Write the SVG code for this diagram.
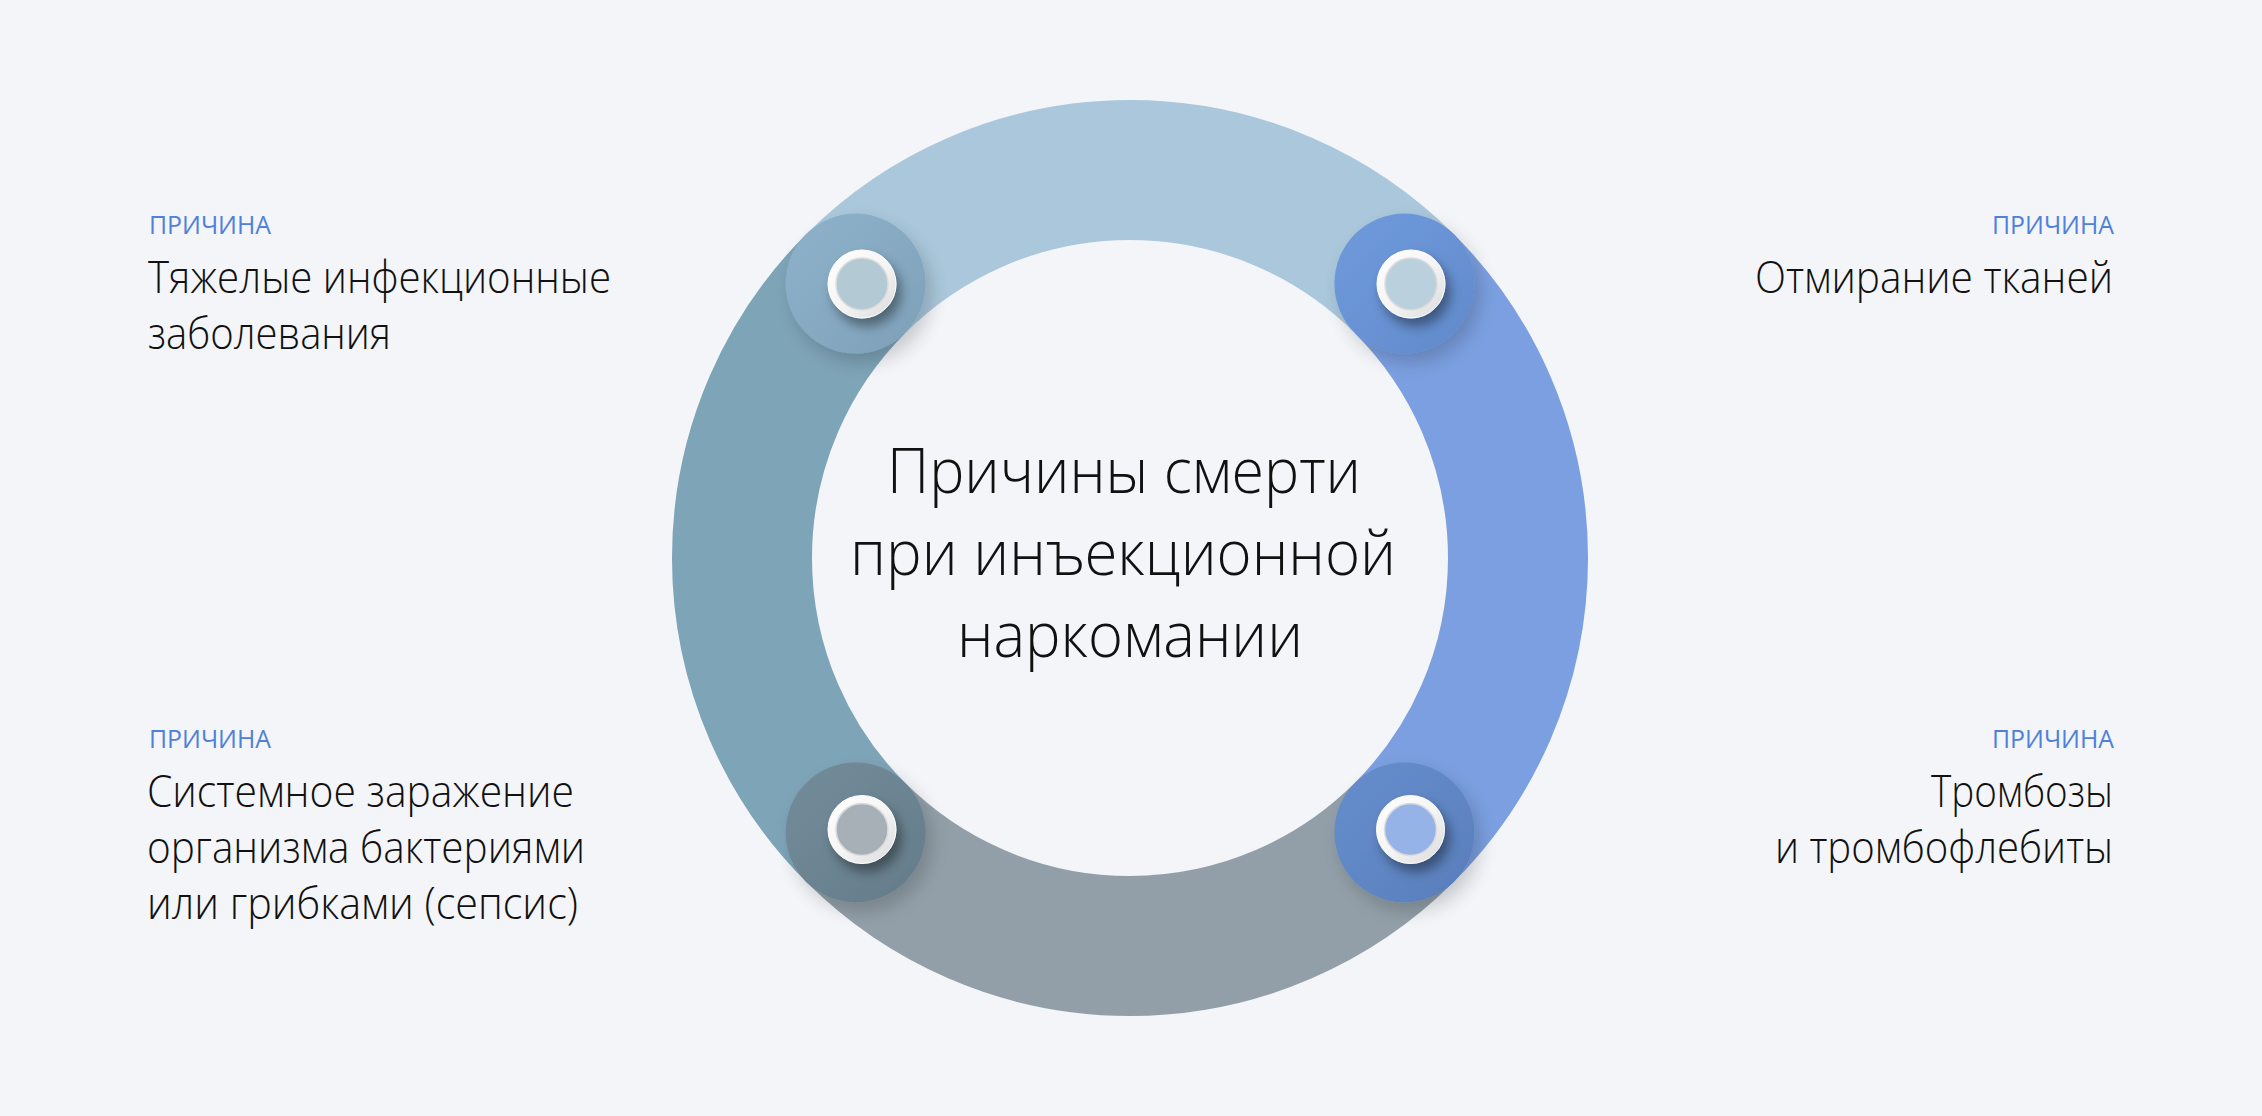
<svg xmlns="http://www.w3.org/2000/svg" width="2262" height="1116" viewBox="0 0 2262 1116">
  <defs>
    <style>
      .bg { fill: #F3F5F9; }
      .arc { fill: none; stroke-width: 140; stroke-linecap: butt; }
      .tag { font-family: "Open Sans", "Noto Sans", sans-serif; font-size: 26px; font-weight: 400; fill: #4F80DA; }
      .cause { font-family: "Open Sans", "Noto Sans", sans-serif; font-size: 45px; font-weight: 300; fill: #111111; }
      .title { font-family: "Open Sans", "Noto Sans", sans-serif; font-size: 62px; font-weight: 300; fill: #111111; text-anchor: middle; }
      .end { text-anchor: end; }
      .knob-rim { fill: url(#rimGrad); stroke: #FFFFFF; stroke-width: 1; }
      .knob-core { stroke: #DCDCDC; stroke-width: 1.5; }
    </style>
    <linearGradient id="rimGrad" x1="0" y1="0" x2="1" y2="1">
      <stop offset="0" stop-color="#FFFFFF"/>
      <stop offset="0.55" stop-color="#F4F4F4"/>
      <stop offset="1" stop-color="#D9D9D9"/>
    </linearGradient>
    <linearGradient id="hubShade" x1="0" y1="0" x2="1" y2="1">
      <stop offset="0" stop-color="#FFFFFF" stop-opacity="0.05"/>
      <stop offset="1" stop-color="#000000" stop-opacity="0.08"/>
    </linearGradient>
    <filter id="hubShadow" x="-50%" y="-50%" width="200%" height="200%">
      <feGaussianBlur in="SourceAlpha" stdDeviation="9"/>
      <feOffset dx="6" dy="9" result="b"/>
      <feComponentTransfer><feFuncA type="linear" slope="0.18"/></feComponentTransfer>
      <feMerge><feMergeNode/><feMergeNode in="SourceGraphic"/></feMerge>
    </filter>
    <filter id="knobShadow" x="-80%" y="-80%" width="260%" height="260%">
      <feGaussianBlur in="SourceAlpha" stdDeviation="6"/>
      <feOffset dx="5" dy="8" result="b"/>
      <feComponentTransfer><feFuncA type="linear" slope="0.4"/></feComponentTransfer>
      <feMerge><feMergeNode/><feMergeNode in="SourceGraphic"/></feMerge>
    </filter>
  </defs>

  <rect class="bg" x="0" y="0" width="2262" height="1116"/>

  <!-- ring made of four quarter arcs, centred at (1130,558), mid radius 388 -->
  <g id="connectors">
    <path class="arc" stroke="#AAC7DB" d="M855.64 283.64 A388 388 0 0 1 1404.36 283.64"/>
    <path class="arc" stroke="#7B9FE0" d="M1404.36 283.64 A388 388 0 0 1 1404.36 832.36"/>
    <path class="arc" stroke="#929FA8" d="M1404.36 832.36 A388 388 0 0 1 855.64 832.36"/>
    <path class="arc" stroke="#7EA4B8" d="M855.64 832.36 A388 388 0 0 1 855.64 283.64"/>
  </g>

  <g id="center-title">
    <text class="title" x="1124" y="493" textLength="474" lengthAdjust="spacingAndGlyphs">Причины смерти</text>
    <text class="title" x="1123" y="575" textLength="546" lengthAdjust="spacingAndGlyphs">при инъекционной</text>
    <text class="title" x="1130" y="657" textLength="346" lengthAdjust="spacingAndGlyphs">наркомании</text>
  </g>

  <!-- junction hubs with knobs -->
  <g id="hub-top-left">
    <g filter="url(#hubShadow)">
      <circle cx="855.6" cy="283.6" r="70" fill="#87ADC7"/>
      <circle cx="855.6" cy="283.6" r="70" fill="url(#hubShade)"/>
    </g>
    <g filter="url(#knobShadow)">
      <circle class="knob-rim" cx="862" cy="284" r="34"/>
      <circle class="knob-core" cx="862" cy="284" r="26" fill="#B3C9D4"/>
    </g>
  </g>
  <g id="hub-top-right">
    <g filter="url(#hubShadow)">
      <circle cx="1404.4" cy="283.6" r="70" fill="#6794DA"/>
      <circle cx="1404.4" cy="283.6" r="70" fill="url(#hubShade)"/>
    </g>
    <g filter="url(#knobShadow)">
      <circle class="knob-rim" cx="1411" cy="284" r="34"/>
      <circle class="knob-core" cx="1411" cy="284" r="26" fill="#BAD0DD"/>
    </g>
  </g>
  <g id="hub-bottom-left">
    <g filter="url(#hubShadow)">
      <circle cx="855.6" cy="832.4" r="70" fill="#6B8594"/>
      <circle cx="855.6" cy="832.4" r="70" fill="url(#hubShade)"/>
    </g>
    <g filter="url(#knobShadow)">
      <circle class="knob-rim" cx="862" cy="829.5" r="34"/>
      <circle class="knob-core" cx="862" cy="829.5" r="26" fill="#A7B0B7"/>
    </g>
  </g>
  <g id="hub-bottom-right">
    <g filter="url(#hubShadow)">
      <circle cx="1404.4" cy="832.4" r="70" fill="#5E87C9"/>
      <circle cx="1404.4" cy="832.4" r="70" fill="url(#hubShade)"/>
    </g>
    <g filter="url(#knobShadow)">
      <circle class="knob-rim" cx="1410.5" cy="829.5" r="34"/>
      <circle class="knob-core" cx="1410.5" cy="829.5" r="26" fill="#95B3E7"/>
    </g>
  </g>

  <!-- cause captions -->
  <g id="cause-infections">
    <text class="tag" x="149" y="234" textLength="122" lengthAdjust="spacingAndGlyphs">ПРИЧИНА</text>
    <text class="cause" x="148" y="293" textLength="463" lengthAdjust="spacingAndGlyphs">Тяжелые инфекционные</text>
    <text class="cause" x="148" y="349" textLength="243" lengthAdjust="spacingAndGlyphs">заболевания</text>
  </g>
  <g id="cause-sepsis">
    <text class="tag" x="149" y="748" textLength="122" lengthAdjust="spacingAndGlyphs">ПРИЧИНА</text>
    <text class="cause" x="147" y="807" textLength="427" lengthAdjust="spacingAndGlyphs">Системное заражение</text>
    <text class="cause" x="147" y="863" textLength="438" lengthAdjust="spacingAndGlyphs">организма бактериями</text>
    <text class="cause" x="147" y="919" textLength="431" lengthAdjust="spacingAndGlyphs">или грибками (сепсис)</text>
  </g>
  <g id="cause-necrosis">
    <text class="tag end" x="2114" y="234" textLength="122" lengthAdjust="spacingAndGlyphs">ПРИЧИНА</text>
    <text class="cause end" x="2113" y="293" textLength="358" lengthAdjust="spacingAndGlyphs">Отмирание тканей</text>
  </g>
  <g id="cause-thrombosis">
    <text class="tag end" x="2114" y="748" textLength="122" lengthAdjust="spacingAndGlyphs">ПРИЧИНА</text>
    <text class="cause end" x="2113" y="807" textLength="182" lengthAdjust="spacingAndGlyphs">Тромбозы</text>
    <text class="cause end" x="2113" y="863" textLength="338" lengthAdjust="spacingAndGlyphs">и тромбофлебиты</text>
  </g>
</svg>
